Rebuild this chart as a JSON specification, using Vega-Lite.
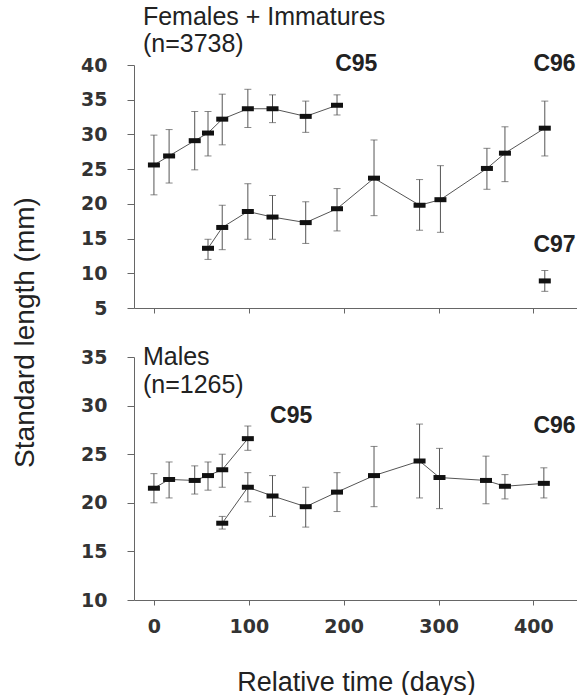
{
  "$schema": "https://vega.github.io/schema/vega-lite/v6.json",
  "padding": {"left": 10, "top": 5, "right": 0, "bottom": 0},
  "bounds": "flush",
  "spacing": 49,
  "config": {
    "view": {"stroke": null},
    "axis": {
      "grid": false,
      "domainColor": "#666",
      "tickColor": "#666",
      "labelFont": "DejaVu Sans",
      "labelFontSize": 19,
      "labelFontWeight": "bold",
      "labelColor": "#333",
      "titleFont": "Liberation Sans",
      "titleFontSize": 27,
      "titleFontWeight": "normal",
      "titleColor": "#222"
    }
  },
  "datasets": {
    "pts": [
      {"panel": "F", "series": "C95", "x": 0, "y": 25.6, "lo": 21.3, "hi": 29.9},
      {"panel": "F", "series": "C95", "x": 16, "y": 26.9, "lo": 23.0, "hi": 30.7},
      {"panel": "F", "series": "C95", "x": 43, "y": 29.1, "lo": 24.9, "hi": 33.3},
      {"panel": "F", "series": "C95", "x": 57, "y": 30.2, "lo": 26.9, "hi": 33.3},
      {"panel": "F", "series": "C95", "x": 72, "y": 32.2, "lo": 28.5, "hi": 35.8},
      {"panel": "F", "series": "C95", "x": 99, "y": 33.7, "lo": 31.0, "hi": 36.5},
      {"panel": "F", "series": "C95", "x": 125, "y": 33.7, "lo": 31.7, "hi": 35.7},
      {"panel": "F", "series": "C95", "x": 160, "y": 32.6, "lo": 30.3, "hi": 34.8},
      {"panel": "F", "series": "C95", "x": 193, "y": 34.2, "lo": 32.8, "hi": 35.7},
      {"panel": "F", "series": "C96", "x": 57, "y": 13.6, "lo": 12.0, "hi": 14.9},
      {"panel": "F", "series": "C96", "x": 72, "y": 16.6, "lo": 13.4, "hi": 19.8},
      {"panel": "F", "series": "C96", "x": 99, "y": 18.9, "lo": 14.9, "hi": 22.9},
      {"panel": "F", "series": "C96", "x": 125, "y": 18.1, "lo": 14.9, "hi": 21.2},
      {"panel": "F", "series": "C96", "x": 160, "y": 17.3, "lo": 14.3, "hi": 20.3},
      {"panel": "F", "series": "C96", "x": 193, "y": 19.3, "lo": 16.1, "hi": 22.2},
      {"panel": "F", "series": "C96", "x": 232, "y": 23.7, "lo": 18.3, "hi": 29.2},
      {"panel": "F", "series": "C96", "x": 280, "y": 19.8, "lo": 16.2, "hi": 23.5},
      {"panel": "F", "series": "C96", "x": 302, "y": 20.6, "lo": 15.9, "hi": 25.5},
      {"panel": "F", "series": "C96", "x": 351, "y": 25.1, "lo": 22.1, "hi": 28.0},
      {"panel": "F", "series": "C96", "x": 370, "y": 27.3, "lo": 23.2, "hi": 31.1},
      {"panel": "F", "series": "C96", "x": 412, "y": 30.9, "lo": 26.9, "hi": 34.8},
      {"panel": "F", "series": "C97", "x": 412, "y": 8.9, "lo": 7.4, "hi": 10.4},
      {"panel": "M", "series": "C95", "x": 0, "y": 21.5, "lo": 20.0, "hi": 23.0},
      {"panel": "M", "series": "C95", "x": 16, "y": 22.4, "lo": 20.5, "hi": 24.2},
      {"panel": "M", "series": "C95", "x": 43, "y": 22.3, "lo": 20.9, "hi": 23.8},
      {"panel": "M", "series": "C95", "x": 57, "y": 22.8, "lo": 21.3, "hi": 24.2},
      {"panel": "M", "series": "C95", "x": 72, "y": 23.4, "lo": 21.6, "hi": 25.0},
      {"panel": "M", "series": "C95", "x": 99, "y": 26.6, "lo": 25.4, "hi": 27.9},
      {"panel": "M", "series": "C96", "x": 72, "y": 17.9, "lo": 17.3, "hi": 18.6},
      {"panel": "M", "series": "C96", "x": 99, "y": 21.6, "lo": 20.1, "hi": 23.1},
      {"panel": "M", "series": "C96", "x": 125, "y": 20.7, "lo": 18.6, "hi": 22.8},
      {"panel": "M", "series": "C96", "x": 160, "y": 19.6, "lo": 17.5, "hi": 21.6},
      {"panel": "M", "series": "C96", "x": 193, "y": 21.1, "lo": 19.1, "hi": 23.1},
      {"panel": "M", "series": "C96", "x": 232, "y": 22.8, "lo": 19.6, "hi": 25.8},
      {"panel": "M", "series": "C96", "x": 280, "y": 24.3, "lo": 20.5, "hi": 28.1},
      {"panel": "M", "series": "C96", "x": 301, "y": 22.6, "lo": 19.4, "hi": 25.6},
      {"panel": "M", "series": "C96", "x": 350, "y": 22.3, "lo": 19.9, "hi": 24.8},
      {"panel": "M", "series": "C96", "x": 370, "y": 21.7, "lo": 20.4, "hi": 22.9},
      {"panel": "M", "series": "C96", "x": 411, "y": 22.0, "lo": 20.5, "hi": 23.6}
    ],
    "ann": [
      {"panel": "F", "kind": "group", "label": "Females + Immatures", "x": -11.6, "y": 45.76},
      {"panel": "F", "kind": "group", "label": "(n=3738)", "x": -11.6, "y": 41.9},
      {"panel": "F", "kind": "cohort", "label": "C95", "x": 191, "y": 39.1},
      {"panel": "F", "kind": "cohort", "label": "C96", "x": 400, "y": 39.1},
      {"panel": "F", "kind": "cohort", "label": "C97", "x": 400, "y": 13.07},
      {"panel": "M", "kind": "group", "label": "Males", "x": -11.6, "y": 34.2},
      {"panel": "M", "kind": "group", "label": "(n=1265)", "x": -11.6, "y": 31.3},
      {"panel": "M", "kind": "cohort", "label": "C95", "x": 122.4, "y": 28.2},
      {"panel": "M", "kind": "cohort", "label": "C96", "x": 400, "y": 27.15}
    ]
  },
  "vconcat": [
    {
      "width": 444,
      "height": 243,
      "data": {"name": "pts"},
      "transform": [{"filter": "datum.panel == 'F'"}],
      "encoding": {
        "x": {"field": "x", "type": "quantitative", "scale": {"domain": [-21, 447], "nice": false, "zero": false},
              "axis": {"values": [0, 100, 200, 300, 400], "labels": false, "title": null, "tickSize": 5}},
        "y": {"field": "y", "type": "quantitative", "scale": {"domain": [5, 40], "nice": false, "zero": false},
              "axis": {"values": [5, 10, 15, 20, 25, 30, 35, 40], "tickSize": 7, "labelPadding": 20,
                       "title": "Standard length (mm)", "titleX": -109, "titleY": 267, "titleAngle": -90,
                       "titleAlign": "center", "titleBaseline": "middle", "titleFontSize": 28}}
      },
      "layer": [
        {"mark": {"type": "line", "color": "#555", "strokeWidth": 1}, "encoding": {"detail": {"field": "series"}}},
        {"mark": {"type": "rule", "color": "#555", "strokeWidth": 1}, "encoding": {"y": {"field": "lo", "type": "quantitative"}, "y2": {"field": "hi"}}},
        {"mark": {"type": "tick", "orient": "horizontal", "color": "#555", "size": 7, "thickness": 1}, "encoding": {"y": {"field": "lo", "type": "quantitative"}}},
        {"mark": {"type": "tick", "orient": "horizontal", "color": "#555", "size": 7, "thickness": 1}, "encoding": {"y": {"field": "hi", "type": "quantitative"}}},
        {"mark": {"type": "tick", "orient": "horizontal", "color": "#111", "size": 12, "thickness": 5, "opacity": 1}},
        {"data": {"name": "ann"}, "transform": [{"filter": "datum.panel == 'F' && datum.kind == 'group'"}],
         "mark": {"type": "text", "align": "left", "baseline": "alphabetic", "font": "Liberation Sans", "fontSize": 25, "color": "#222"},
         "encoding": {"text": {"field": "label"}}},
        {"data": {"name": "ann"}, "transform": [{"filter": "datum.panel == 'F' && datum.kind == 'cohort'"}],
         "mark": {"type": "text", "align": "left", "baseline": "alphabetic", "font": "Liberation Sans", "fontSize": 23, "fontWeight": "bold", "color": "#222"},
         "encoding": {"text": {"field": "label"}}}
      ]
    },
    {
      "width": 444,
      "height": 243,
      "data": {"name": "pts"},
      "transform": [{"filter": "datum.panel == 'M'"}],
      "encoding": {
        "x": {"field": "x", "type": "quantitative", "scale": {"domain": [-21, 447], "nice": false, "zero": false},
              "axis": {"values": [0, 100, 200, 300, 400], "tickSize": 5, "labelPadding": 12,
                       "title": "Relative time (days)", "titlePadding": 33}},
        "y": {"field": "y", "type": "quantitative", "scale": {"domain": [10, 35], "nice": false, "zero": false},
              "axis": {"values": [10, 15, 20, 25, 30, 35], "tickSize": 7, "labelPadding": 20, "title": null}}
      },
      "layer": [
        {"mark": {"type": "line", "color": "#555", "strokeWidth": 1}, "encoding": {"detail": {"field": "series"}}},
        {"mark": {"type": "rule", "color": "#555", "strokeWidth": 1}, "encoding": {"y": {"field": "lo", "type": "quantitative"}, "y2": {"field": "hi"}}},
        {"mark": {"type": "tick", "orient": "horizontal", "color": "#555", "size": 7, "thickness": 1}, "encoding": {"y": {"field": "lo", "type": "quantitative"}}},
        {"mark": {"type": "tick", "orient": "horizontal", "color": "#555", "size": 7, "thickness": 1}, "encoding": {"y": {"field": "hi", "type": "quantitative"}}},
        {"mark": {"type": "tick", "orient": "horizontal", "color": "#111", "size": 12, "thickness": 5, "opacity": 1}},
        {"data": {"name": "ann"}, "transform": [{"filter": "datum.panel == 'M' && datum.kind == 'group'"}],
         "mark": {"type": "text", "align": "left", "baseline": "alphabetic", "font": "Liberation Sans", "fontSize": 25, "color": "#222"},
         "encoding": {"text": {"field": "label"}}},
        {"data": {"name": "ann"}, "transform": [{"filter": "datum.panel == 'M' && datum.kind == 'cohort'"}],
         "mark": {"type": "text", "align": "left", "baseline": "alphabetic", "font": "Liberation Sans", "fontSize": 23, "fontWeight": "bold", "color": "#222"},
         "encoding": {"text": {"field": "label"}}}
      ]
    }
  ]
}
